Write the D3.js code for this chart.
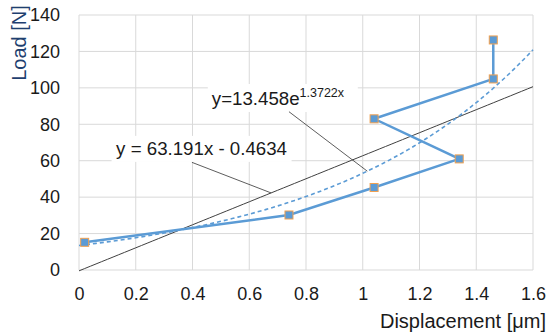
<!DOCTYPE html>
<html>
<head>
<meta charset="utf-8">
<script src="https://cdn.jsdelivr.net/npm/d3@7"></script>
<style>
  body { margin: 0; background: #fff; }
  svg text { font-family: "Liberation Sans", Arial, sans-serif; }
</style>
</head>
<body>
<div id="chart"></div>
<script>
// measured points (displacement in um, load in N), in loading order
let displacement = [0.02, 0.74, 1.04, 1.34, 1.04, 1.46, 1.46];
let load = [15.2, 30.2, 45.3, 61.0, 83.0, 104.9, 126.3];

// trendline coefficients as printed on the chart
let linearCoef = [63.191, -0.4634];
let expCoef = [13.458, 1.3722];

let xTicks = [0, 0.2, 0.4, 0.6, 0.8, 1, 1.2, 1.4, 1.6];
let yTicks = [0, 20, 40, 60, 80, 100, 120, 140];

let W = 550, H = 336;
let margin = {top: 15, right: 17, bottom: 66, left: 79};
let width = W - margin.left - margin.right,
    height = H - margin.top - margin.bottom;

let svg = d3.select("#chart")
  .append("svg")
    .attr("width", W)
    .attr("height", H);

let g = svg.append("g")
  .attr("transform", "translate(" + margin.left + "," + margin.top + ")");

let x = d3.scaleLinear().domain([0, 1.6]).range([0, width]);
let y = d3.scaleLinear().domain([0, 140]).range([height, 0]);

// gridlines
g.append("g")
  .selectAll("line")
  .data(xTicks)
  .join("line")
    .attr("x1", d => x(d)).attr("x2", d => x(d))
    .attr("y1", 0).attr("y2", height)
    .attr("stroke", "#d9d9d9").attr("stroke-width", 1);
g.append("g")
  .selectAll("line")
  .data(yTicks)
  .join("line")
    .attr("x1", 0).attr("x2", width)
    .attr("y1", d => y(d)).attr("y2", d => y(d))
    .attr("stroke", "#d9d9d9").attr("stroke-width", 1);

// axes (labels only)
let xAxis = g.append("g")
  .attr("transform", "translate(0," + height + ")")
  .call(d3.axisBottom(x).tickValues(xTicks).tickSize(0).tickPadding(17).tickFormat(d3.format("")));
let yAxis = g.append("g")
  .call(d3.axisLeft(y).tickValues(yTicks).tickSize(0).tickPadding(19));
[xAxis, yAxis].forEach(a => {
  a.select(".domain").remove();
  a.selectAll("text")
    .style("font-size", "18px")
    .style("font-family", "Liberation Sans, Arial, sans-serif")
    .attr("fill", "#1a1a1a");
});

// white boxes behind the trendline labels
let linLabel = {x: 0.432, y: 63.2};
let expLabel = {x: 0.468, y: 90.6};
g.append("rect")
  .attr("x", x(linLabel.x) - 90).attr("y", y(linLabel.y) - 19)
  .attr("width", 180).attr("height", 26)
  .attr("fill", "#fff");
g.append("rect")
  .attr("x", x(expLabel.x) - 4).attr("y", y(expLabel.y) - 21)
  .attr("width", 150).attr("height", 28)
  .attr("fill", "#fff");

// linear trendline
let xs = d3.range(0, 1.6001, 0.02);
g.append("path")
  .datum(xs)
  .attr("fill", "none")
  .attr("stroke", "#404040")
  .attr("stroke-width", 1)
  .attr("d", d3.line()
    .x(d => x(d))
    .y(d => y(linearCoef[0] * d + linearCoef[1])));

// exponential trendline
g.append("path")
  .datum(xs)
  .attr("fill", "none")
  .attr("stroke", "#5b9bd5")
  .attr("stroke-width", 1.6)
  .attr("stroke-dasharray", "4,3")
  .attr("d", d3.line()
    .x(d => x(d))
    .y(d => y(expCoef[0] * Math.exp(expCoef[1] * d))));

// leader lines
g.append("line")
  .attr("x1", x(0.398)).attr("y1", y(59.1))
  .attr("x2", x(0.677)).attr("y2", y(linearCoef[0] * 0.677 + linearCoef[1]))
  .attr("stroke", "#333").attr("stroke-width", 0.8);
g.append("line")
  .attr("x1", x(0.74)).attr("y1", y(86.9))
  .attr("x2", x(1.016)).attr("y2", y(expCoef[0] * Math.exp(expCoef[1] * 1.016)))
  .attr("stroke", "#333").attr("stroke-width", 0.8);

// trendline labels
g.append("text")
  .attr("x", x(linLabel.x)).attr("y", y(linLabel.y))
  .attr("text-anchor", "middle")
  .style("font-size", "18.7px")
  .attr("fill", "#1a1a1a")
  .text("y = " + linearCoef[0] + "x - " + Math.abs(linearCoef[1]));

let expText = g.append("text")
  .attr("x", x(expLabel.x)).attr("y", y(expLabel.y))
  .style("font-size", "18.7px")
  .attr("fill", "#1a1a1a");
expText.append("tspan").text("y=" + expCoef[0] + "e");
expText.append("tspan")
  .attr("dy", -8)
  .style("font-size", "12.5px")
  .text(expCoef[1] + "x");

// data line
let pts = displacement.map((d, i) => ({x: d, y: load[i]}));
g.append("path")
  .datum(pts)
  .attr("fill", "none")
  .attr("stroke", "#5b9bd5")
  .attr("stroke-width", 2.5)
  .attr("d", d3.line().x(d => x(d.x)).y(d => y(d.y)));

// markers
g.selectAll(".marker")
  .data(pts)
  .join("rect")
    .attr("class", "marker")
    .attr("x", d => x(d.x) - 4)
    .attr("y", d => y(d.y) - 4)
    .attr("width", 8).attr("height", 8)
    .attr("fill", "#5b9bd5")
    .attr("stroke", "#f0a050")
    .attr("stroke-width", 1);

// axis titles
svg.append("text")
  .attr("transform", "translate(26,43) rotate(-90)")
  .attr("text-anchor", "middle")
  .style("font-size", "20px")
  .attr("fill", "#1f3f6f")
  .text("Load [N]");
svg.append("text")
  .attr("x", 546).attr("y", 328)
  .attr("text-anchor", "end")
  .style("font-size", "20px")
  .attr("fill", "#1a1a1a")
  .text("Displacement [μm]");
</script>
</body>
</html>
